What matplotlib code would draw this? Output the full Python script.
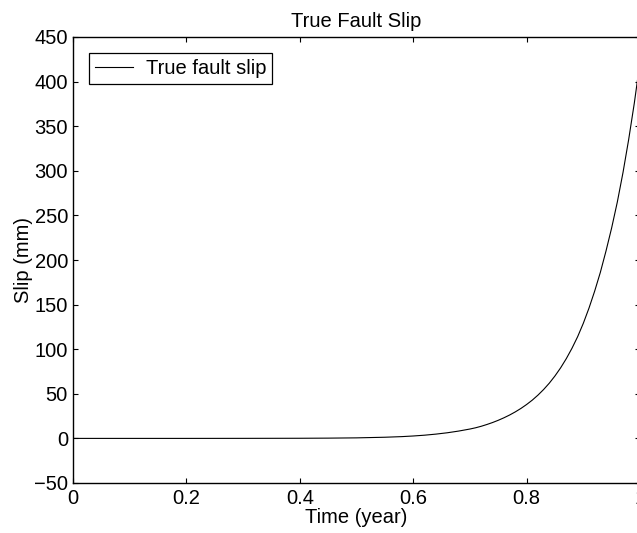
import matplotlib
matplotlib.use("Agg")
import matplotlib.pyplot as plt

plt.rcParams['font.family'] = ['Liberation Sans', 'DejaVu Sans']

# Data
time_year = [0.0, 0.1, 0.2, 0.3, 0.4, 0.45, 0.5, 0.55, 0.58, 0.6, 0.62, 0.64,
             0.66, 0.68, 0.7, 0.71, 0.72, 0.73, 0.74, 0.75, 0.76, 0.77, 0.78,
             0.79, 0.8, 0.81, 0.82, 0.83, 0.84, 0.85, 0.86, 0.87, 0.88, 0.89,
             0.9, 0.91, 0.92, 0.93, 0.94, 0.95, 0.96, 0.97, 0.98, 0.99, 1.0]
slip_mm = [0.0, 0.0, 0.0, 0.05, 0.15, 0.3, 0.6, 1.3, 2.0, 2.7, 3.6, 4.8,
           6.3, 8.2, 10.5, 11.9, 13.6, 15.6, 17.8, 20.3, 23.1, 26.2, 29.7,
           33.6, 38.0, 42.9, 48.5, 54.8, 61.9, 70.0, 79.1, 89.4, 101.0, 114.0,
           129.0, 146.0, 165.0, 186.0, 210.0, 236.0, 265.0, 298.0, 335.0, 376.0, 422.0]
x_ticks = [0, 0.2, 0.4, 0.6, 0.8, 1.0]
x_tick_labels = ['0', '0.2', '0.4', '0.6', '0.8', '1']
y_ticks = [-50, 0, 50, 100, 150, 200, 250, 300, 350, 400, 450]

FS = 14.5

fig = plt.figure(figsize=(6.37, 5.33), dpi=100)
ax = fig.add_axes([73 / 637, 1 - 483 / 533, 567 / 637, 446 / 533])

ax.plot(time_year, slip_mm, color='black', linewidth=0.8, label='True fault slip')

ax.set_xlim(0, 1)
ax.set_ylim(-50, 450)
ax.set_xticks(x_ticks)
ax.set_xticklabels(x_tick_labels)
ax.set_yticks(y_ticks)

ax.tick_params(direction='in', top=True, right=True, length=3.6, width=0.8,
               labelsize=FS)
ax.tick_params(axis='x', pad=4)
ax.tick_params(axis='y', pad=3.6)
for s in ax.spines.values():
    s.set_linewidth(1.0)

ax.set_title('True Fault Slip', fontsize=FS, pad=7)
ax.set_xlabel('Time (year)', fontsize=FS, labelpad=0)
ax.set_ylabel('Slip (mm)', fontsize=FS, labelpad=1)

leg = ax.legend(loc='upper left', fontsize=FS, frameon=True, fancybox=False,
                edgecolor='black', framealpha=1, borderaxespad=0.8,
                handlelength=1.9, borderpad=0.3, handletextpad=0.6)
leg.get_frame().set_linewidth(0.9)

fig.savefig('out.png', dpi=100)
